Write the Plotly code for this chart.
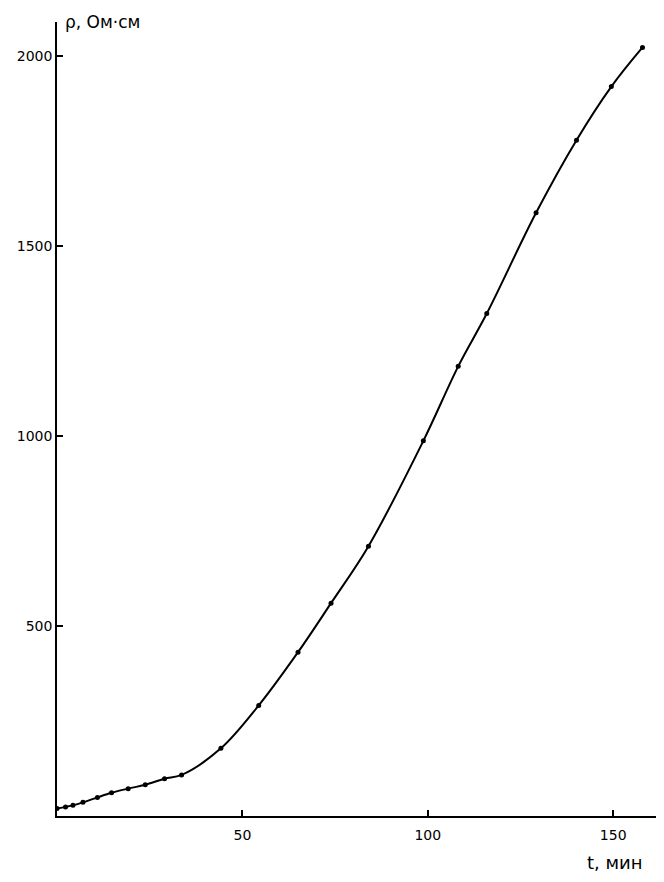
import plotly.graph_objects as go

t_min = [0, 2.3, 4.3, 7, 10.9, 14.7, 19.2, 23.8, 29, 33.6, 44.2, 54.4, 65, 73.9, 84, 98.8, 108.2, 115.9, 129.2, 140.1, 149.5, 157.9]
rho = [20, 24, 28, 36, 49, 61, 72, 82, 98, 108, 178, 291, 431, 560, 710, 987, 1183, 1322, 1587, 1778, 1919, 2022]

x_ticks = [50, 100, 150]
y_ticks = [500, 1000, 1500, 2000]

fig = go.Figure()
fig.add_trace(go.Scatter(
    x=t_min, y=rho, mode="lines+markers",
    line=dict(color="black", width=2, shape="spline", smoothing=1.0),
    marker=dict(color="black", size=5),
    showlegend=False,
))

font = dict(family="DejaVu Sans", size=14, color="black")

fig.update_layout(
    width=656, height=874,
    margin=dict(l=49, r=0, t=14, b=66),
    plot_bgcolor="white", paper_bgcolor="white",
    xaxis=dict(range=[0, 163.7], tickvals=x_ticks, ticktext=[str(v) for v in x_ticks],
               showgrid=False, zeroline=False, showline=True, linecolor="black", linewidth=1.5,
               ticks="inside", ticklen=6, tickcolor="black", tickwidth=1.5, tickfont=font,
               ticklabelstandoff=5),
    yaxis=dict(range=[0, 2089], tickvals=y_ticks, ticktext=[str(v) for v in y_ticks],
               showgrid=False, zeroline=False, showline=True, linecolor="black", linewidth=1.5,
               ticks="inside", ticklen=6, tickcolor="black", tickwidth=1.5, tickfont=font),
    annotations=[
        dict(text="ρ, Ом·см", xref="paper", yref="paper", x=0.01, y=1.0,
             xanchor="left", yanchor="middle", showarrow=False,
             font=dict(family="DejaVu Sans", size=17, color="black")),
        dict(text="t, мин", xref="paper", yref="paper", x=0.919, y=-0.059,
             xanchor="center", yanchor="middle", showarrow=False,
             font=dict(family="DejaVu Sans", size=18, color="black")),
    ],
)

fig.write_html("out.html")
